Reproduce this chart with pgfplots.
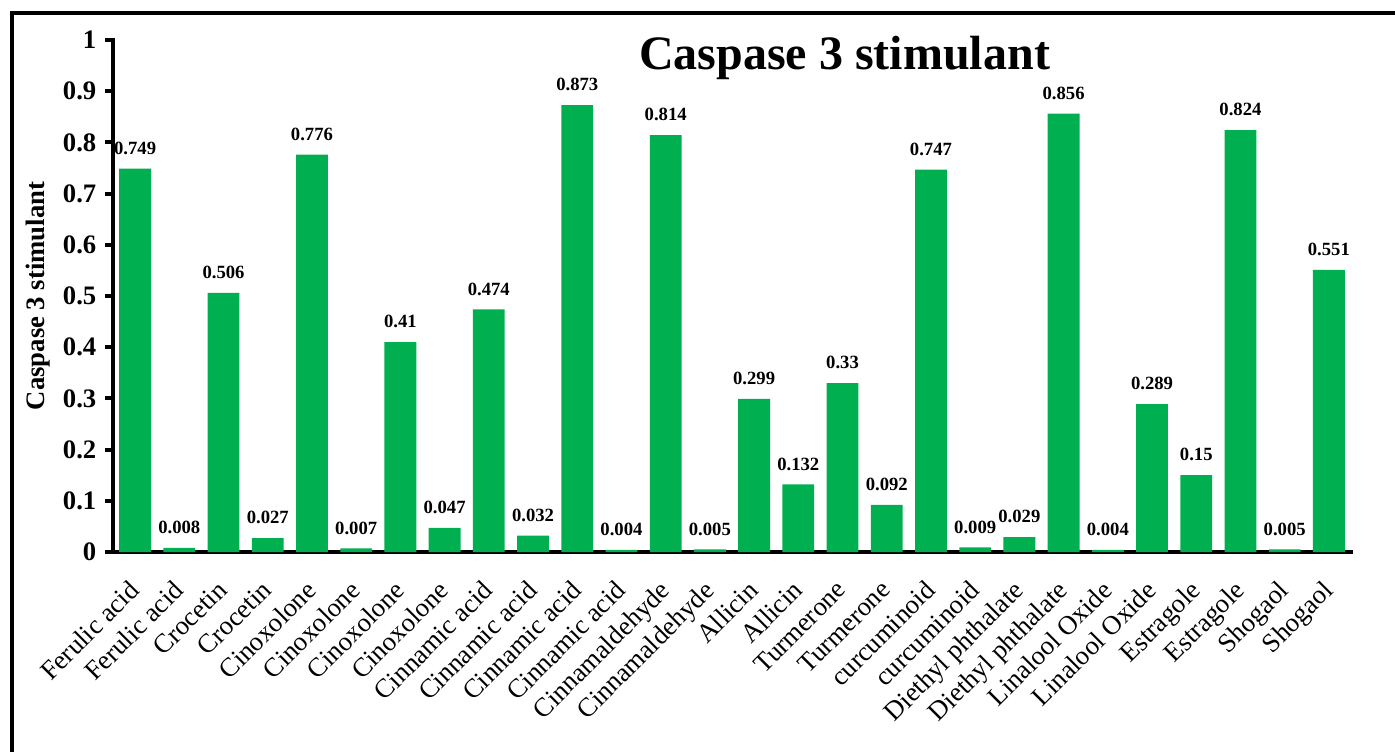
\documentclass[border=0pt]{standalone}
\usepackage{pgfplots}
\pgfplotsset{compat=1.18}
\usepackage{fontspec}
\setmainfont{Liberation Serif}
\definecolor{barg}{RGB}{0,176,80}
\begin{document}
\begin{tikzpicture}
\begin{axis}[
  at={(0,0)}, anchor=south west,
  scale only axis,
  width=928.5pt, height=384pt,
  xmin=-0.5, xmax=27.5,
  ymin=0, ymax=1,
  axis x line*=bottom, axis y line*=left,
  axis line style={line width=3pt, line cap=rect},
  every tick/.style={black, line width=3pt},
  tick align=outside,
  major tick length=6pt,
  ytick={0,0.1,...,1},
  yticklabels={0,0.1,0.2,0.3,0.4,0.5,0.6,0.7,0.8,0.9,1},
  yticklabel style={font=\fontsize{20}{24}\selectfont\bfseries, xshift=-3pt},
  xtick={0,...,27},
  x tick style={draw=none},
  minor xtick={-0.5,0.5,...,27.5},
  minor x tick style={black, line width=3pt},
  minor tick length=6pt,
  xticklabels={Ferulic acid,Ferulic acid,Crocetin,Crocetin,Cinoxolone,Cinoxolone,Cinoxolone,Cinoxolone,Cinnamic acid,Cinnamic acid,Cinnamic acid,Cinnamic acid,Cinnamaldehyde,Cinnamaldehyde,Allicin,Allicin,Turmerone,Turmerone,curcuminoid,curcuminoid,Diethyl phthalate,Diethyl phthalate,Linalool Oxide,Linalool Oxide,Estragole,Estragole,Shogaol,Shogaol},
  xticklabel style={font=\fontsize{20}{24}\selectfont, rotate=45, anchor=north east, inner sep=1pt, yshift=-5pt, xshift=-13pt},
  ylabel={Caspase 3 stimulant},
  ylabel style={font=\fontsize{20}{24}\selectfont\bfseries, at={(axis description cs:-0.0606,0.5)}, anchor=center},
  /pgf/number format/assume math mode=true,
  point meta=explicit symbolic,
  nodes near coords={\pgfplotspointmeta},
  every node near coord/.append style={font=\fontsize{14}{16}\selectfont\bfseries, yshift=7pt, black},
  clip=false,
]
\addplot[ybar, bar width=0.72, fill=barg, draw=none] coordinates {
(0,0.749) [0.749]
(1,0.008) [0.008]
(2,0.506) [0.506]
(3,0.027) [0.027]
(4,0.776) [0.776]
(5,0.007) [0.007]
(6,0.41) [0.41]
(7,0.047) [0.047]
(8,0.474) [0.474]
(9,0.032) [0.032]
(10,0.873) [0.873]
(11,0.004) [0.004]
(12,0.814) [0.814]
(13,0.005) [0.005]
(14,0.299) [0.299]
(15,0.132) [0.132]
(16,0.33) [0.33]
(17,0.092) [0.092]
(18,0.747) [0.747]
(19,0.009) [0.009]
(20,0.029) [0.029]
(21,0.856) [0.856]
(22,0.004) [0.004]
(23,0.289) [0.289]
(24,0.15) [0.15]
(25,0.824) [0.824]
(26,0.005) [0.005]
(27,0.551) [0.551]
};
\node[font=\fontsize{36}{40}\selectfont\bfseries] at (rel axis cs:0.591,0.965) {Caspase 3 stimulant};
\end{axis}
\draw[line width=3pt, line cap=rect] (-75.75pt,-160pt) -- (-75.75pt,404.25pt) -- (975pt,404.25pt);
\pgfresetboundingbox
\useasboundingbox (-84.75pt,-149.25pt) rectangle (961.5pt,414pt);
\end{tikzpicture}
\end{document}
